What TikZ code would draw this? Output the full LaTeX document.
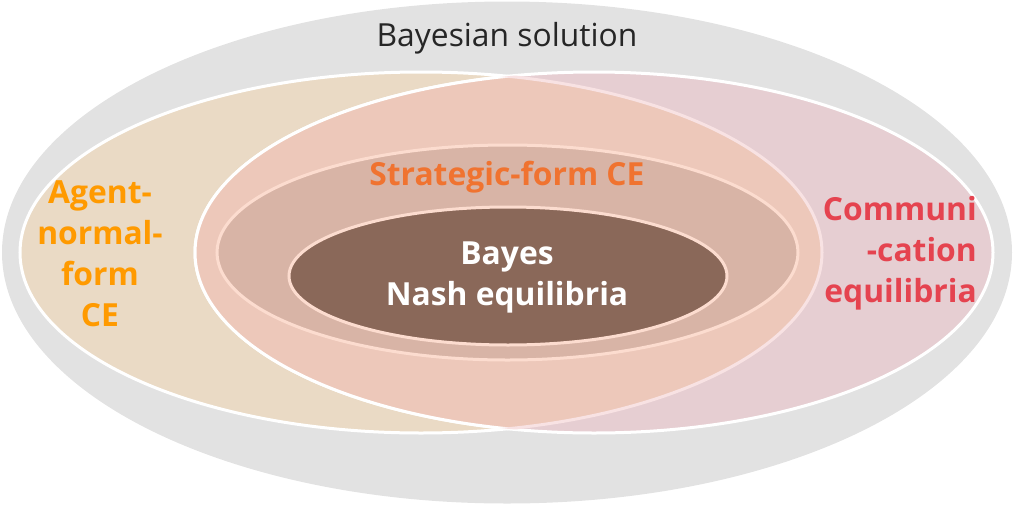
\documentclass[tikz,border=0pt]{standalone}
\usepackage{fontspec}
\setmainfont{Open Sans}
\usepackage{tikz}
\usetikzlibrary{positioning, calc}

\definecolor{solgray}{HTML}{E2E2E2}
\definecolor{agenttan}{HTML}{EADAC5}
\definecolor{commpink}{HTML}{E6CED2}
\definecolor{stratsalmon}{HTML}{EDC8BA}
\definecolor{midrose}{HTML}{D8B4A6}
\definecolor{peach}{HTML}{FCDCCF}
\definecolor{faintpink}{HTML}{F8E2E3}
\definecolor{bnebrown}{HTML}{8A6859}
\definecolor{agentorange}{HTML}{FF9A00}
\definecolor{stratorange}{HTML}{F07330}
\definecolor{commred}{HTML}{E5434F}
\definecolor{textgray}{HTML}{262626}

\tikzset{
  lbl/.style={font=\fontsize{31.8}{41}\selectfont\bfseries, inner sep=0pt}
}

\begin{document}
\begin{tikzpicture}[x=1pt, y=-1pt]
    \useasboundingbox (0,0) rectangle (1013,504);

    % Bayesian solution
    \fill[solgray] (507,252.5) ellipse (505 and 251);

    % Agent-normal-form CE
    \filldraw[fill=agenttan, draw=white, line width=3pt] (421,252.5) ellipse (401 and 180.5);

    % Communication equilibria
    \filldraw[fill=commpink, draw=white, line width=3pt] (594,252.5) ellipse (399 and 180.5);

    % Strategic-form CE = overlap
    \begin{scope}
        \clip (421,252.5) ellipse (401 and 180.5);
        \fill[stratsalmon] (594,252.5) ellipse (399 and 180.5);
        \draw[white, line width=3pt] (594,252.5) ellipse (399 and 180.5);
    \end{scope}
    \begin{scope}
        \clip (594,252.5) ellipse (399 and 180.5);
        \draw[faintpink, line width=3pt] (421,252.5) ellipse (401 and 180.5);
    \end{scope}

    % Inner rings
    \filldraw[fill=midrose, draw=peach, line width=3pt] (507.5,252.5) ellipse (290.5 and 107.5);
    \filldraw[fill=bnebrown, draw=peach, line width=3pt] (508,276) ellipse (219 and 69);

    % Labels
    \node[lbl, font=\fontsize{31.8}{41}\selectfont, text=textgray] (sol) at (507,38) {Bayesian solution};
    \node[lbl, text=agentorange, align=center] (agent) at (100,254) {Agent-\\normal-\\form\\CE};
    \node[lbl, text=commred, align=right, anchor=east] (comm) at (977,253) {Communi\\-cation\\equilibria};
    \node[lbl, text=stratorange] (strat) at (507,177) {Strategic-form CE};
    \node[lbl, text=white, align=center] (bne) at (507,277) {Bayes\\Nash equilibria};
\end{tikzpicture}
\end{document}
